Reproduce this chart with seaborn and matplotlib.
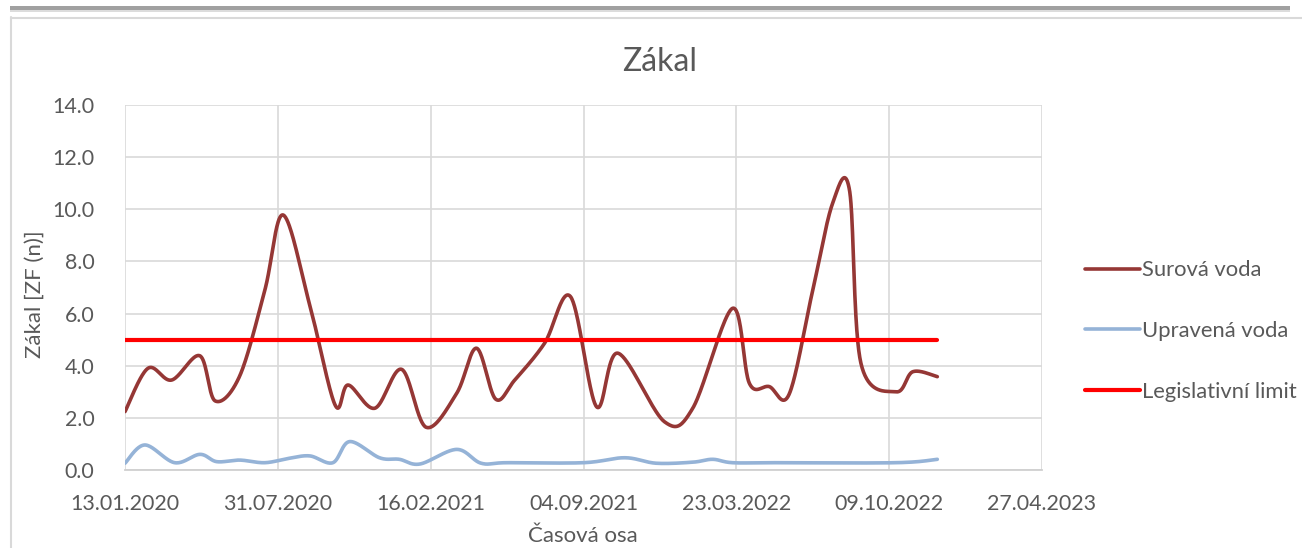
import numpy as np
import pandas as pd
import matplotlib
matplotlib.use("Agg")
import matplotlib.pyplot as plt
import matplotlib.dates as mdates
from matplotlib.patches import Rectangle
from matplotlib.lines import Line2D
import seaborn as sns

# ---------------- data ----------------
raw_dates = ["2020-01-13", "2020-02-12", "2020-03-14", "2020-04-20", "2020-05-10",
             "2020-06-11", "2020-07-14", "2020-08-07", "2020-09-11", "2020-10-14",
             "2020-10-31", "2020-12-05", "2021-01-09", "2021-02-10", "2021-03-22",
             "2021-04-17", "2021-05-12", "2021-06-06", "2021-07-15", "2021-08-18",
             "2021-09-21", "2021-10-19", "2021-12-19", "2022-01-25", "2022-03-18",
             "2022-04-09", "2022-05-05", "2022-05-31", "2022-07-01", "2022-07-27",
             "2022-08-18", "2022-09-02", "2022-10-18", "2022-11-09", "2022-12-11"]
raw_values = [2.24, 3.90, 3.45, 4.38, 2.65,
              3.60, 6.90, 9.78, 6.30, 2.49,
              3.26, 2.37, 3.86, 1.64, 2.94,
              4.67, 2.72, 3.45, 4.86, 6.65,
              2.43, 4.48, 1.85, 2.37, 6.20,
              3.33, 3.20, 2.90, 6.90, 10.23,
              10.75, 4.10, 3.00, 3.77, 3.58]

treated_dates = ["2020-01-13", "2020-02-08", "2020-03-18", "2020-04-20", "2020-05-12",
                 "2020-06-11", "2020-07-14", "2020-08-15", "2020-09-11", "2020-10-11",
                 "2020-11-02", "2020-12-11", "2021-01-06", "2021-02-02", "2021-03-22",
                 "2021-04-23", "2021-05-27", "2021-09-04", "2021-10-28", "2021-12-08",
                 "2022-01-25", "2022-02-20", "2022-03-18", "2022-05-12", "2022-10-18",
                 "2022-12-11"]
treated_values = [0.26, 0.96, 0.28, 0.60, 0.32,
                  0.38, 0.28, 0.45, 0.54, 0.28,
                  1.09, 0.47, 0.41, 0.23, 0.79,
                  0.26, 0.28, 0.28, 0.47, 0.26,
                  0.30, 0.41, 0.28, 0.28, 0.28,
                  0.41]

limit_dates = ["2020-01-13", "2022-12-11"]
limit_values = [5.0, 5.0]

series_names = ["Surová voda", "Upravená voda", "Legislativní limit"]
tick_dates = ["2020-01-13", "2020-07-31", "2021-02-16", "2021-09-04",
              "2022-03-23", "2022-10-09", "2023-04-27"]
y_ticks = [0, 2, 4, 6, 8, 10, 12, 14]

title = "Zákal"
x_label = "Časová osa"
y_label = "Zákal [ZF (n)]"

# ---------------- smoothing (Excel-like Catmull-Rom rendering) ----------------
def smooth(dates, values, n=40):
    x = mdates.date2num(pd.to_datetime(dates))
    y = np.asarray(values, dtype=float)
    if len(x) < 3:
        return x, y
    P = np.column_stack([x, y])
    P = np.vstack([P[0], P, P[-1]])
    out = []
    t = np.linspace(0, 1, n, endpoint=False)
    for i in range(1, len(P) - 2):
        p0, p1, p2, p3 = P[i - 1], P[i], P[i + 1], P[i + 2]
        m1 = (p2 - p0) / 2.0
        m2 = (p3 - p1) / 2.0
        h00 = 2 * t**3 - 3 * t**2 + 1
        h10 = t**3 - 2 * t**2 + t
        h01 = -2 * t**3 + 3 * t**2
        h11 = t**3 - t**2
        seg = (h00[:, None] * p1 + h10[:, None] * m1 +
               h01[:, None] * p2 + h11[:, None] * m2)
        out.append(seg)
    out.append(P[-2][None, :])
    out = np.vstack(out)
    return out[:, 0], out[:, 1]

frames = []
for name, d, v in zip(series_names,
                      [raw_dates, treated_dates, limit_dates],
                      [raw_values, treated_values, limit_values]):
    sx, sy = smooth(d, v)
    frames.append(pd.DataFrame({"x": mdates.num2date(sx), "y": sy, "series": name}))
df = pd.concat(frames, ignore_index=True)
df["x"] = pd.to_datetime(df["x"]).dt.tz_localize(None)

# ---------------- styling ----------------
sns.set_theme(style="white")
plt.rcParams["font.family"] = ["Lato", "DejaVu Sans"]
text_color = "#595959"
grid_color = "#D9D9D9"
palette = {"Surová voda": "#953735", "Upravená voda": "#95B3D7",
           "Legislativní limit": "#FF0000"}
widths = {"Surová voda": 2.6, "Upravená voda": 2.6, "Legislativní limit": 3.0}

W, H = 1302, 548
fig = plt.figure(figsize=(W / 100, H / 100), dpi=100)
fig.patch.set_facecolor("white")

# frame decorations (screenshot border)
fig.patches.append(Rectangle((10 / W, 1 - 10.5 / H), 1280 / W, 4.5 / H,
                             transform=fig.transFigure, facecolor="#A0A0A0",
                             edgecolor="none", zorder=0))
fig.patches.append(Rectangle((10 / W, 1 - 12 / H), 1280 / W, 1.5 / H,
                             transform=fig.transFigure, facecolor="#DCDCDC",
                             edgecolor="none", zorder=0))
fig.lines.append(Line2D([10.5 / W, 10.5 / W], [0, 1 - 17 / H], transform=fig.transFigure,
                        color="#D9D9D9", lw=1.5))
fig.lines.append(Line2D([10.5 / W, 1], [1 - 17.5 / H, 1 - 17.5 / H], transform=fig.transFigure,
                        color="#D9D9D9", lw=1.5))

ax = fig.add_axes([125 / W, 1 - 470 / H, (1042 - 125) / W, (470 - 105) / H])

sns.lineplot(data=df, x="x", y="y", hue="series", hue_order=series_names,
             palette=palette, sort=False, estimator=None, units="series",
             linewidth=2.6, ax=ax, legend=False)
for ln, name in zip(ax.lines, series_names):
    ln.set_linewidth(widths[name])
    ln.set_solid_capstyle("round")
    ln.set_solid_joinstyle("round")

ticks = pd.to_datetime(tick_dates)
ax.set_xlim(ticks[0], ticks[-1])
ax.set_xticks(ticks)
ax.xaxis.set_major_formatter(mdates.DateFormatter("%d.%m.%Y"))
ax.set_ylim(min(y_ticks), max(y_ticks))
ax.set_yticks(y_ticks)
ax.set_yticklabels([f"{t:.1f}" for t in y_ticks])
ax.set_xlabel("")
ax.set_ylabel("")

ax.grid(True, color=grid_color, linewidth=1.2)
ax.set_axisbelow(True)
for s in ["top", "right", "left"]:
    ax.spines[s].set_visible(False)
ax.spines["bottom"].set_color("#D0D0D0")
ax.spines["bottom"].set_linewidth(1.3)
ax.tick_params(axis="both", length=0, labelsize=15.4, colors=text_color)
ax.tick_params(axis="y", pad=22)
ax.tick_params(axis="x", pad=17)

fig.text(660 / W, 1 - 62 / H, title, ha="center", va="center",
         fontsize=23, color=text_color)
fig.text(583 / W, 1 - 536 / H, x_label, ha="center", va="center",
         fontsize=16, color=text_color)
fig.text(35 / W, 1 - 294 / H, y_label, ha="center", va="center",
         rotation=90, fontsize=16, color=text_color)

handles = [Line2D([0], [0], color=palette[n], lw=widths[n]) for n in series_names]
fig.legend(handles, series_names, loc="center left",
           bbox_to_anchor=(1085 / W, 1 - 331 / H), frameon=False,
           fontsize=15.8, labelcolor=text_color, handlelength=2.5,
           handletextpad=0.12, labelspacing=1.85, borderpad=0, borderaxespad=0)

fig.savefig("out.png", dpi=100, facecolor="white")
